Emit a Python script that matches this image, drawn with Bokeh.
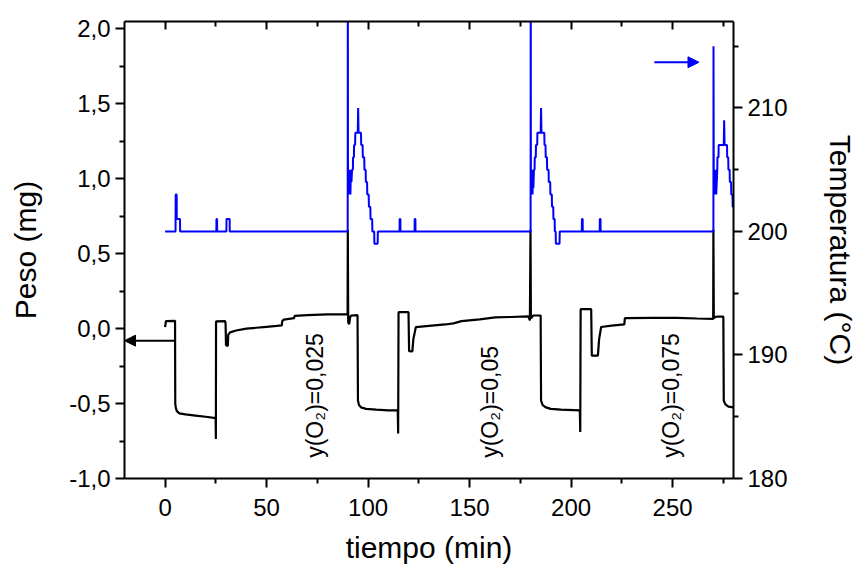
import math
from bokeh.plotting import figure
from bokeh.models import (Range1d, LinearAxis, FixedTicker, CustomJSTickFormatter,
                          Arrow, NormalHead, ColumnDataSource)
from bokeh.core.properties import value
from bokeh.embed import file_html
from bokeh.resources import INLINE

# ---------------- data ----------------
time_peso = [0.0, 0.4, 4.9, 5.0, 5.3, 5.8, 7.0, 10, 15, 20, 24.9, 25.0, 25.1,
             29.6, 29.8, 30.0, 30.9, 31.1, 32.0, 35, 40, 45, 50, 55, 57.5, 57.7, 58.5,
             63.5, 63.8, 70, 80, 89.9, 90.0, 90.2, 90.7, 91.2, 91.7, 94.8, 95.0, 95.5,
             96.5, 99, 104, 110, 114.6, 114.8, 115.0, 119.9, 120.2, 121.8, 122.3, 123.5,
             130, 138, 142, 146, 155, 162.6, 170, 178.9, 179.7, 180.0, 180.2, 181.4,
             185.0, 185.2, 186.0, 187.5, 190, 195, 204.3, 204.5, 204.7, 209.9, 210.2,
             213.2, 213.8, 214.8, 220, 226.2, 226.5, 240, 252, 262, 270.0, 270.1,
             270.3, 271.5, 275.0, 275.2, 276, 277.5, 280]
peso = [0.01, 0.05, 0.052, -0.50, -0.53, -0.55, -0.565, -0.572, -0.58, -0.588, -0.597, -0.737, 0.048,
        0.05, 0.03, -0.11, -0.115, -0.04, -0.025, -0.012, 0.0, 0.006, 0.012, 0.018, 0.022, 0.05, 0.06,
        0.07, 0.085, 0.09, 0.095, 0.097, 0.66, 0.04, 0.03, 0.08, 0.088, 0.09, -0.48, -0.51,
        -0.525, -0.535, -0.54, -0.545, -0.545, -0.70, 0.11, 0.11, -0.15, -0.152, -0.07, 0.01,
        0.018, 0.028, 0.035, 0.05, 0.062, 0.075, 0.078, 0.082, 0.055, 0.66, 0.07, 0.088,
        0.088, -0.48, -0.51, -0.525, -0.535, -0.54, -0.545, -0.69, 0.13, 0.13, -0.18,
        -0.18, -0.07, 0.011, 0.02, 0.028, 0.07, 0.072, 0.072, 0.068, 0.065, 0.66,
        0.07, 0.08, 0.08, -0.48, -0.505, -0.52, -0.525]

time_temp = [0.0, 5.15, 5.2, 5.7, 5.75, 7.35, 7.4, 25.25, 25.3, 25.6, 25.65, 30.2, 30.25, 31.8, 31.85,
             89.95, 90.0, 90.1, 90.3, 90.5, 90.7, 90.9, 91.1, 91.3, 91.5, 91.8, 92.1, 92.5, 92.6,
             93.0, 93.1, 93.6, 93.7, 94.9, 95.1, 95.3, 96.5, 96.6, 97.3, 97.4, 98.1, 98.2, 98.8,
             98.9, 99.5, 99.6, 100.3, 100.4, 101.1, 101.2, 102.0, 102.1, 103.0, 103.1, 104.7, 104.8,
             115.5, 115.55, 115.9, 115.95, 122.9, 122.95, 123.3, 123.35,
             180.05, 180.1, 180.2, 180.4, 180.6, 180.8, 181.0, 181.2, 181.4, 181.7, 182.0, 182.1,
             182.6, 182.7, 183.3, 183.4, 185.0, 185.2, 185.4, 186.8, 186.9, 187.4, 187.5, 188.1,
             188.2, 188.9, 189.0, 189.7, 189.8, 190.5, 190.6, 191.2, 191.3, 191.9, 192.0, 192.4,
             192.5, 194.3, 194.4,
             205.3, 205.35, 205.7, 205.75, 214.1, 214.15, 214.5, 214.55,
             270.1, 270.15, 270.3, 270.5, 270.7, 270.9, 271.1, 271.3, 271.5, 272.0, 272.1, 272.6,
             272.7, 275.2, 275.4, 275.6, 276.8, 276.9, 277.4, 277.5, 278.1, 278.2, 278.8, 278.9,
             279.5, 279.6, 280.0]
temperatura = [200, 200, 203, 203, 201, 201, 200, 200, 201, 201, 200, 200, 201, 201, 200,
               200, 225, 203, 205, 203, 205, 203, 205, 203, 205, 204, 205, 205, 206,
               206, 207, 207, 208, 208, 210, 208, 208, 207, 207, 206, 206, 205, 205,
               204, 204, 203, 203, 202, 202, 201, 201, 200, 200, 199, 199, 200,
               200, 201, 201, 200, 200, 201, 201, 200,
               200, 225, 203, 205, 203, 205, 203, 205, 203.5, 205, 205, 206,
               206, 207, 207, 208, 208, 210, 208, 208, 207, 207, 206, 206,
               205, 205, 204, 204, 203, 203, 202, 202, 201, 201, 200, 200,
               199, 199, 200,
               200, 201, 201, 200, 200, 201, 201, 200,
               200, 215, 203, 205, 203, 205, 203, 205, 203, 205, 206, 206,
               207, 207, 209, 207, 207, 206, 206, 205, 205, 204, 204, 203,
               203, 202, 202]

x_ticks = [0, 50, 100, 150, 200, 250]
x_minor = [25, 75, 125, 175, 225, 275]
peso_ticks = [-1.0, -0.5, 0.0, 0.5, 1.0, 1.5, 2.0]
peso_minor = [-0.75, -0.25, 0.25, 0.75, 1.25, 1.75]
temp_ticks = [180, 190, 200, 210]
temp_minor = [185, 195, 205, 215]

label_text = ["y(O\u2082)=0,025", "y(O\u2082)=0,05", "y(O\u2082)=0,075"]
label_t = [74, 160, 249]
label_w = [-0.862, -0.862, -0.862]

# arrows (start -> end)
arrow_peso = dict(t0=4.9, w0=-0.08, t1=-20, w1=-0.08)
arrow_temp = dict(t0=241, T0=213.7, t1=263, T1=213.7)

FONT = "Liberation Sans"

p = figure(width=859, height=568, x_range=Range1d(-20, 280), y_range=Range1d(-1.0, 2.05),
           output_backend="svg", toolbar_location=None,
           min_border_left=124, min_border_right=122, min_border_top=21, min_border_bottom=90)
p.extra_y_ranges = {"temp": Range1d(180, 217)}
p.grid.visible = False
p.outline_line_color = None

ax_b = p.below[0]
ax_l = p.left[0]
ax_b.axis_label = "tiempo (min)"
ax_l.axis_label = "Peso (mg)"
ax_b.ticker = FixedTicker(ticks=x_ticks, minor_ticks=x_minor)
ax_l.ticker = FixedTicker(ticks=peso_ticks, minor_ticks=peso_minor)
ax_l.formatter = CustomJSTickFormatter(code="return tick.toFixed(1).replace('.', ',')")

ax_r = LinearAxis(y_range_name="temp", axis_label="Temperatura (\u00b0C)",
                  ticker=FixedTicker(ticks=temp_ticks, minor_ticks=temp_minor))
p.add_layout(ax_r, "right")
ax_t = LinearAxis(ticker=FixedTicker(ticks=x_ticks, minor_ticks=x_minor),
                  formatter=CustomJSTickFormatter(code="return ''"))
p.add_layout(ax_t, "above")

for ax in [ax_b, ax_l, ax_r, ax_t]:
    ax.axis_line_width = 2
    ax.axis_line_color = "black"
    ax.major_tick_line_width = 2
    ax.minor_tick_line_width = 2
    ax.major_tick_line_color = "black"
    ax.minor_tick_line_color = "black"
    ax.major_label_text_font = FONT
    ax.axis_label_text_font = FONT
    ax.axis_label_text_font_style = "normal"
    ax.axis_label_text_font_size = "30px"
    ax.axis_label_text_color = "black"
    ax.major_label_text_color = "black"
for ax in [ax_b, ax_l, ax_r]:
    ax.major_tick_out = 9
    ax.major_tick_in = 0
    ax.minor_tick_out = 5
    ax.minor_tick_in = 0
    ax.major_label_text_font_size = "24px"
    ax.major_label_standoff = 5
ax_b.major_label_standoff = 11
ax_t.major_label_text_font_size = "1px"
ax_t.major_label_standoff = 0
ax_t.major_tick_in = 8
ax_t.major_tick_out = 0
ax_t.minor_tick_in = 5
ax_t.minor_tick_out = 0

ax_l.axis_label_standoff = 24
ax_r.axis_label_standoff = 33
ax_b.axis_label_standoff = 12

src_p = ColumnDataSource(dict(t=time_peso, w=peso))
src_t = ColumnDataSource(dict(t=time_temp, T=temperatura))
p.line("t", "w", source=src_p, line_color="black", line_width=2.2)
p.line("t", "T", source=src_t, line_color="#0000ff", line_width=2, y_range_name="temp")

src_l = ColumnDataSource(dict(t=label_t, w=label_w, s=label_text))
p.text("t", "w", text="s", source=src_l, angle=math.pi / 2, text_align="left",
       text_baseline="middle", text_font=value(FONT), text_font_size="23px", text_color="black")

p.add_layout(Arrow(end=NormalHead(size=11, fill_color="black", line_color="black"),
                   x_start=arrow_peso["t0"], y_start=arrow_peso["w0"],
                   x_end=arrow_peso["t1"], y_end=arrow_peso["w1"],
                   line_color="black", line_width=2))
p.add_layout(Arrow(end=NormalHead(size=11, fill_color="#0000ff", line_color="#0000ff"),
                   x_start=arrow_temp["t0"], y_start=arrow_temp["T0"],
                   x_end=arrow_temp["t1"], y_end=arrow_temp["T1"],
                   line_color="#0000ff", line_width=2, y_range_name="temp"))

open("out.html", "w").write(file_html(p, INLINE))
